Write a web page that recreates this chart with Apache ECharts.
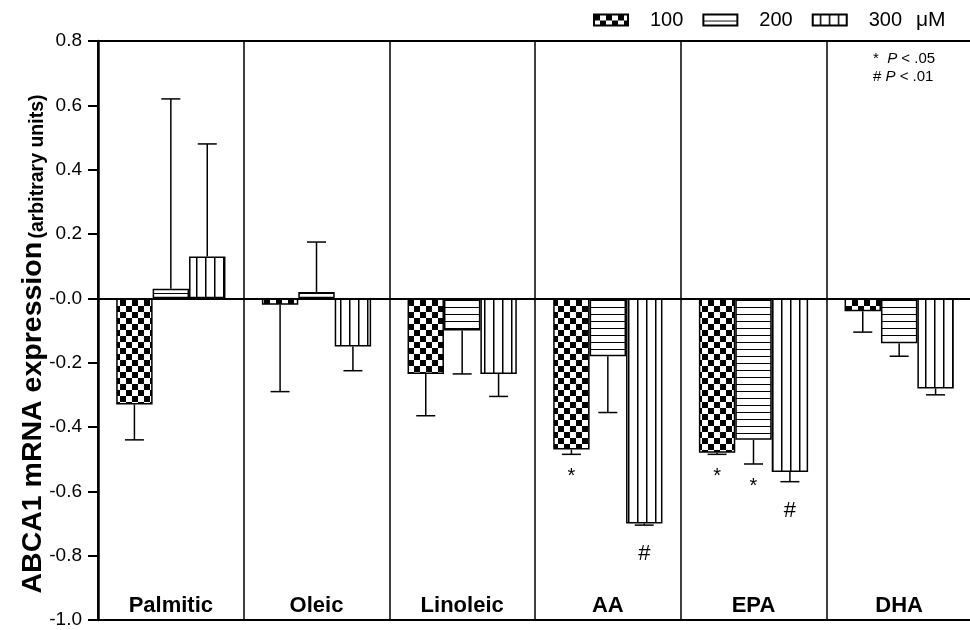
<!DOCTYPE html>
<html><head><meta charset="utf-8">
<script src="https://cdn.jsdelivr.net/npm/echarts@6/dist/echarts.min.js"></script>
<style>html,body{margin:0;padding:0;background:#fff}#c{width:970px;height:630px}</style>
</head><body><div id="c"></div>
<script>
var categories = ['Palmitic', 'Oleic', 'Linoleic', 'AA', 'EPA', 'DHA'];
var doses = ['100', '200', '300'];
var mean100 = [-0.33, -0.02, -0.235, -0.47, -0.48, -0.04];
var mean200 = [0.03, 0.02, -0.10, -0.18, -0.44, -0.14];
var mean300 = [0.13, -0.15, -0.235, -0.70, -0.54, -0.28];
var sem100 = [0.11, 0.27, 0.13, 0.015, 0.005, 0.065];
var sem200 = [0.59, 0.155, 0.135, 0.175, 0.075, 0.04];
var sem300 = [0.35, 0.075, 0.07, 0.005, 0.03, 0.02];
var sig100 = ['', '', '', '*', '*', ''];
var sig200 = ['', '', '', '', '*', ''];
var sig300 = ['', '', '', '#', '#', ''];
var yMin = -1.0, yMax = 0.8, yStep = 0.2;

var FONT = '"Liberation Sans", Arial, Helvetica, sans-serif';

function makeCanvas(w, h, draw) {
  var c = document.createElement('canvas');
  c.width = w; c.height = h;
  var g = c.getContext('2d');
  g.fillStyle = '#fff'; g.fillRect(0, 0, w, h);
  g.fillStyle = '#000';
  draw(g);
  return c;
}
var checker = makeCanvas(12, 12, function (g) { g.fillRect(0, 0, 6, 6); g.fillRect(6, 6, 6, 6); });
var hstripe = makeCanvas(8, 7.5, function (g) { g.fillRect(0, 6, 8, 1.5); });
var vstripe = makeCanvas(9, 9, function (g) { g.fillRect(7, 0, 1.5, 9); });
var patterns = [checker, hstripe, vstripe];
var means = [mean100, mean200, mean300];
var sems = [sem100, sem200, sem300];
var sigs = [sig100, sig200, sig300];

var GAP = 0.25;

function errRenderer(k) {
  return function (params, api) {
    var i = params.dataIndex;
    var ci = api.value(0), v = api.value(1), e = api.value(2);
    var band = api.size([1, 0])[0];
    var bw = band * (1 - GAP) / 3;
    var base = api.coord([ci, v]);
    var x = base[0] - band * (1 - GAP) / 2 + bw * (k + 0.5);
    var end = v + (v >= 0 ? e : -e);
    var y1 = api.coord([ci, end])[1];
    var y0 = base[1];
    var cap = 9.5;
    var children = [
      {type: 'line', shape: {x1: x, y1: y0, x2: x, y2: y1}, style: {stroke: '#000', lineWidth: 1.5}},
      {type: 'line', shape: {x1: x - cap, y1: y1, x2: x + cap, y2: y1}, style: {stroke: '#000', lineWidth: 1.5}}
    ];
    var s = sigs[k][i];
    if (s) {
      var isHash = s === '#';
      children.push({
        type: 'text', x: x, y: y1 + (isHash ? 29 : 22),
        style: {
          text: s, fill: '#000',
          font: (isHash ? '22px ' : '20px ') + FONT,
          align: 'center', verticalAlign: 'middle',
          textAlign: 'center', textVerticalAlign: 'middle'
        }
      });
    }
    return {type: 'group', children: children};
  };
}

var series = [];
for (var k = 0; k < 3; k++) {
  var s = {
    name: doses[k], type: 'bar',
    barGap: '0%', barCategoryGap: (GAP * 100) + '%',
    data: means[k],
    itemStyle: {color: {image: patterns[k], repeat: 'repeat'}, borderColor: '#000', borderWidth: 1.5},
    emphasis: {disabled: true},
    z: 2
  };
  if (k === 0) {
    s.markLine = {
      silent: true, symbol: 'none',
      label: {show: false},
      lineStyle: {color: '#000', width: 2, type: 'solid'},
      data: [{yAxis: 0}],
      z: 5
    };
  }
  series.push(s);
}
for (var k2 = 0; k2 < 3; k2++) {
  var d = [];
  for (var i = 0; i < categories.length; i++) d.push([i, means[k2][i], sems[k2][i]]);
  series.push({
    type: 'custom', renderItem: errRenderer(k2), data: d,
    encode: {x: 0, y: 1}, z: 4, silent: true, clip: false
  });
}

var chart = echarts.init(document.getElementById('c'), null, {renderer: 'canvas'});
chart.setOption({
  animation: false,
  backgroundColor: '#fff',
  grid: {left: 98, right: -2, top: 41, bottom: 10, show: true, borderColor: '#000', borderWidth: 2, containLabel: false, outerBoundsMode: 'none'},
  legend: {
    data: doses, left: 593, top: 10, padding: 0, icon: 'rect', itemWidth: 34, itemHeight: 11, itemGap: 19,
    selectedMode: false,
    textStyle: {fontSize: 20, color: '#000', fontFamily: FONT, padding: [0, 0, 0, 17]}
  },
  xAxis: {
    type: 'category', data: categories, position: 'bottom',
    axisLine: {show: false, onZero: false}, axisTick: {show: false},
    splitLine: {show: true, lineStyle: {color: '#000', width: 1.5}},
    axisLabel: {inside: true, margin: 3, fontSize: 22, fontWeight: 'bold', color: '#000', fontFamily: FONT}
  },
  yAxis: {
    type: 'value', min: yMin, max: yMax, interval: yStep,
    axisLine: {show: true, lineStyle: {color: '#000', width: 2.5}},
    axisTick: {show: true, length: 10, lineStyle: {color: '#000', width: 2}},
    splitLine: {show: false},
    axisLabel: {
      margin: 16, fontSize: 19, color: '#000', fontFamily: FONT,
      formatter: function (v) { return Math.abs(v) < 1e-9 ? '-0.0' : v.toFixed(1); }
    }
  },
  graphic: [
    {
      type: 'text', x: 33, y: 344, rotation: Math.PI / 2,
      style: {
        text: '{a|ABCA1 mRNA expression} {b|(arbitrary units)}',
        align: 'center', verticalAlign: 'middle', textAlign: 'center', textVerticalAlign: 'middle',
        fill: '#000',
        rich: {
          a: {fontSize: 28.5, fontWeight: 'bold', fontFamily: FONT, fill: '#000', verticalAlign: 'bottom', lineHeight: 30},
          b: {fontSize: 19.5, fontWeight: 'bold', fontFamily: FONT, fill: '#000', verticalAlign: 'bottom', lineHeight: 30}
        }
      }
    },
    {type: 'text', x: 916, y: 20, style: {text: 'μM', font: '21px ' + FONT, fill: '#000', verticalAlign: 'middle', textVerticalAlign: 'middle'}},
    {
      type: 'text', x: 873, y: 59,
      style: {
        text: '*  {i|P} < .05', font: '15px ' + FONT, fill: '#000', verticalAlign: 'middle', textVerticalAlign: 'middle',
        rich: {i: {fontStyle: 'italic', fontSize: 15, fontFamily: FONT}}
      }
    },
    {
      type: 'text', x: 873, y: 77,
      style: {
        text: '# {i|P} < .01', font: '15px ' + FONT, fill: '#000', verticalAlign: 'middle', textVerticalAlign: 'middle',
        rich: {i: {fontStyle: 'italic', fontSize: 15, fontFamily: FONT}}
      }
    }
  ],
  series: series
});
</script>
</body></html>
